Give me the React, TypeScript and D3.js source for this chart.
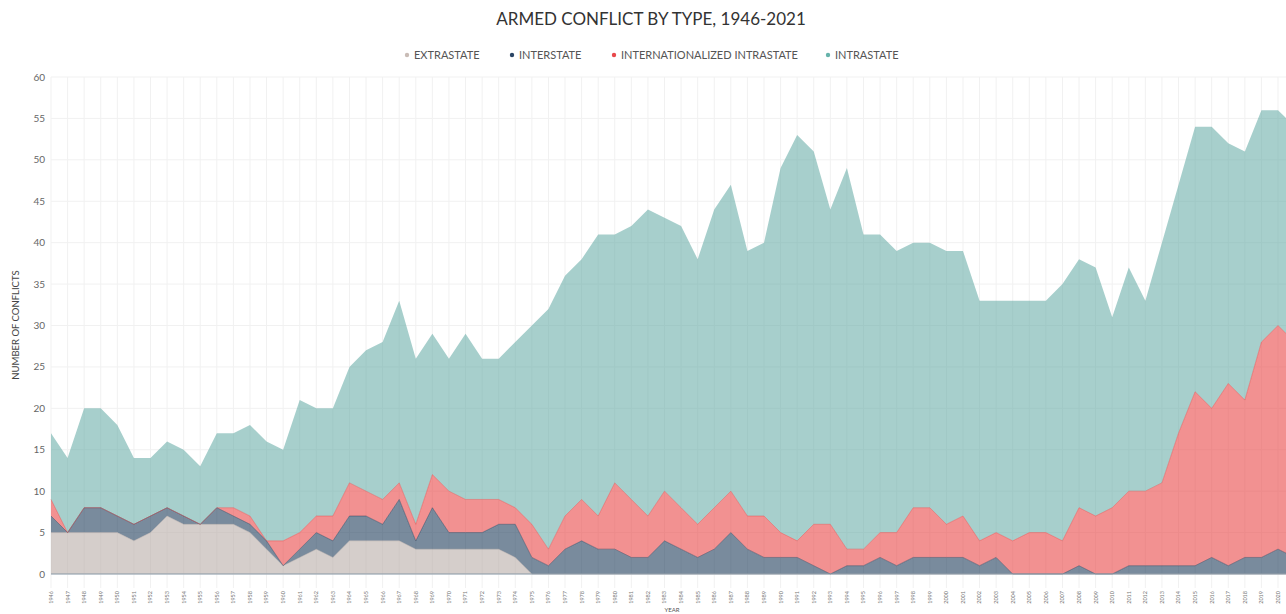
import * as d3 from "d3";

const years = d3.range(1946, 2022);

const extrastate = [
  5, 5, 5, 5, 5, 4, 5, 7, 6, 6, 6, 6, 5, 3, 1, 2, 3, 2, 4, 4, 4, 4, 3, 3, 3,
  3, 3, 3, 2, 0, 0, 0, 0, 0, 0, 0, 0, 0, 0, 0, 0, 0, 0, 0, 0, 0, 0, 0, 0, 0,
  0, 0, 0, 0, 0, 0, 0, 0, 0, 0, 0, 0, 0, 0, 0, 0, 0, 0, 0, 0, 0, 0, 0, 0, 0,
  0,
];

const interstate = [
  2, 0, 3, 3, 2, 2, 2, 1, 1, 0, 2, 1, 1, 1, 0, 1, 2, 2, 3, 3, 2, 5, 1, 5, 2,
  2, 2, 3, 4, 2, 1, 3, 4, 3, 3, 2, 2, 4, 3, 2, 3, 5, 3, 2, 2, 2, 1, 0, 1, 1,
  2, 1, 2, 2, 2, 2, 1, 2, 0, 0, 0, 0, 1, 0, 0, 1, 1, 1, 1, 1, 2, 1, 2, 2, 3,
  2,
];

const internationalized = [
  2, 0, 0, 0, 0, 0, 0, 0, 0, 0, 0, 1, 1, 0, 3, 2, 2, 3, 4, 3, 3, 2, 2, 4, 5,
  4, 4, 3, 2, 4, 2, 4, 5, 4, 8, 7, 5, 6, 5, 4, 5, 5, 4, 5, 3, 2, 5, 6, 2, 2,
  3, 4, 6, 6, 4, 5, 3, 3, 4, 5, 5, 4, 7, 7, 8, 9, 9, 10, 16, 21, 18, 22, 19, 26, 27,
  26,
];

const intrastate = [
  8, 9, 12, 12, 11, 8, 7, 8, 8, 7, 9, 9, 11, 12, 11, 16, 13, 13, 14, 17, 19, 22, 20, 17, 16,
  20, 17, 17, 20, 24, 29, 29, 29, 34, 30, 33, 37, 33, 34, 32, 36, 37, 32, 33, 44, 49, 45, 38, 46, 38,
  36, 34, 32, 32, 33, 32, 29, 28, 29, 28, 28, 31, 30, 30, 23, 27, 23, 29, 30, 32, 34, 29, 30, 28, 26,
  26,
];

const seriesKeys = ["extrastate", "interstate", "internationalized", "intrastate"];
const seriesLabels = ["EXTRASTATE", "INTERSTATE", "INTERNATIONALIZED INTRASTATE", "INTRASTATE"];
const seriesColors = ["#b9ada8", "#1f3d5c", "#ea4848", "#5fa8a2"];
const dotColors = ["#c9bcb6", "#2a4565", "#e8484b", "#66b3ab"];
const yTicks = [0, 5, 10, 15, 20, 25, 30, 35, 40, 45, 50, 55, 60];

const width = 1286;
const height = 614;
const font = "'Lato', 'Open Sans', sans-serif";

export default function App() {
  const rows = years.map((year, i) => ({
    year,
    extrastate: extrastate[i],
    interstate: interstate[i],
    internationalized: internationalized[i],
    intrastate: intrastate[i],
  }));

  const x = d3.scaleLinear().domain([1946, 2021]).range([51, 1294.6]);
  const y = d3.scaleLinear().domain([0, 60]).range([574, 77]);

  const stacked = d3.stack<any>().keys(seriesKeys)(rows);

  const area = d3
    .area<any>()
    .x((d) => x(d.data.year))
    .y0((d) => y(d[0]))
    .y1((d) => y(d[1]));

  const topLine = d3
    .line<any>()
    .x((d) => x(d.data.year))
    .y((d) => y(d[1]));

  const legendX = [403, 508, 610, 824];
  // the plot runs past the right edge, so the 2021 label falls off-screen
  const visibleYears = years.filter((yr) => x(yr) < width - 4);

  return (
    <svg
      width={width}
      height={height}
      style={{ position: "absolute", left: 0, top: 0, background: "#fff" }}
    >
      <text
        x={651}
        y={25}
        textAnchor="middle"
        fontFamily={font}
        fontSize={17}
        fill="#333"
      >
        ARMED CONFLICT BY TYPE, 1946-2021
      </text>

      {seriesLabels.map((label, i) => (
        <g key={label} transform={`translate(${legendX[i]}, 55)`}>
          <circle cx={4} cy={0} r={2.2} fill={dotColors[i]} />
          <text x={11} y={4} fontFamily={font} fontSize={11} fill="#555">
            {label}
          </text>
        </g>
      ))}

      {/* grid */}
      <g>
        {yTicks.map((t) => (
          <line
            key={`h${t}`}
            x1={51}
            x2={width}
            y1={y(t)}
            y2={y(t)}
            stroke="#f1f1f1"
            strokeWidth={1}
          />
        ))}
        {years.map((yr) => (
          <line
            key={`v${yr}`}
            x1={x(yr)}
            x2={x(yr)}
            y1={y(60)}
            y2={588}
            stroke="#f1f1f1"
            strokeWidth={1}
          />
        ))}
      </g>

      {/* stacked areas */}
      <g>
        {stacked.map((layer, i) => (
          <path
            key={layer.key}
            d={area(layer) ?? ""}
            fill={seriesColors[i]}
            fillOpacity={i === 3 ? 0.55 : 0.6}
          />
        ))}
        {stacked.slice(0, 3).map((layer, i) => (
          <path
            key={`l${layer.key}`}
            d={topLine(layer) ?? ""}
            fill="none"
            stroke={seriesColors[i]}
            strokeOpacity={0.45}
            strokeWidth={1}
          />
        ))}
        <line x1={51} x2={width} y1={y(0)} y2={y(0)} stroke="#8a9aa8" strokeWidth={1} />
      </g>

      {/* y axis */}
      <g fontFamily={font} fontSize={10} fill="#666">
        {yTicks.map((t) => (
          <text key={t} x={45} y={y(t)} dy="0.35em" textAnchor="end">
            {t}
          </text>
        ))}
      </g>
      <text
        transform={`translate(19, 325) rotate(-90)`}
        textAnchor="middle"
        fontFamily={font}
        fontSize={9.5}
        fill="#444"
      >
        NUMBER OF CONFLICTS
      </text>

      {/* x axis */}
      <g fontFamily={font} fontSize={5.5} fill="#777">
        {visibleYears.map((yr) => (
          <text
            key={yr}
            transform={`translate(${x(yr)}, 591) rotate(-90)`}
            textAnchor="end"
            dy="0.35em"
          >
            {yr}
          </text>
        ))}
      </g>
      <text x={672} y={612} textAnchor="middle" fontFamily={font} fontSize={6} fill="#555">
        YEAR
      </text>
    </svg>
  );
}
